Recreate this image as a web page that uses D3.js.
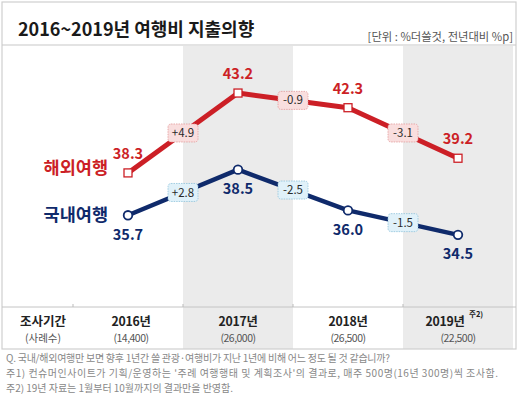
<!DOCTYPE html>
<html>
<head>
<meta charset="utf-8">
<script src="https://cdn.jsdelivr.net/npm/d3@7"></script>
<style>
  body { margin: 0; background: #fff; }
  svg { font-family: "Noto Sans CJK KR", "Noto Sans", sans-serif; }
</style>
</head>
<body>
<svg id="chart"></svg>
<script>
var years = ["2016", "2017", "2018", "2019"];
var sampleSizes = ["(14,400)", "(26,000)", "(26,500)", "(22,500)"];
var overseas = [38.3, 43.2, 42.3, 39.2];
var domestic = [35.7, 38.5, 36.0, 34.5];
var overseasChange = ["+4.9", "-0.9", "-3.1"];
var domesticChange = ["+2.8", "-2.5", "-1.5"];
var footnotes = [
    "Q. 국내/해외여행만 보면 향후 1년간 쓸 관광·여행비가 지난 1년에 비해 어느 정도 될 것 같습니까?",
    "주1) 컨슈머인사이트가 기획/운영하는 '주례 여행행태 및 계획조사'의 결과로, 매주 500명(16년 300명)씩 조사함.",
    "주2) 19년 자료는 1월부터 10월까지의 결과만을 반영함."
];

var W = 520, H = 407;
var red = "#cc1f26", navy = "#0f2a6b";
var boxTop = 2, boxBottom = 349, boxLeft = 2, boxRight = 516;
var titleLine = 45, tableLine = 307;
// stretched widths of the footnote lines, to match the condensed source font
var noteWidths = [384, 492, 227];

var svg = d3.select("#chart").attr("width", W).attr("height", H);

var xScale = d3.scaleBand().domain(years).range([73, 513]).padding(0);
var yScale = d3.scaleLinear().domain([33, 45]).range([259.3, 63.7]);
var cx = function (d, i) { return xScale(years[i]) + xScale.bandwidth() / 2; };

// shaded columns (2017, 2019)
svg.selectAll("rect.shade")
    .data(years.filter(function (d, i) { return i % 2 == 1; }))
    .enter().append("rect")
    .attr("class", "shade")
    .attr("x", function (d) { return xScale(d); })
    .attr("y", titleLine + 1)
    .attr("width", xScale.bandwidth())
    .attr("height", boxBottom - titleLine - 1)
    .attr("fill", "#ebebeb");

// frame
svg.append("rect")
    .attr("x", boxLeft).attr("y", boxTop)
    .attr("width", boxRight - boxLeft).attr("height", boxBottom - boxTop)
    .attr("fill", "none").attr("stroke", "#cfcfcf").attr("stroke-width", 1.2);
svg.append("line")
    .attr("x1", boxLeft).attr("x2", boxRight)
    .attr("y1", titleLine).attr("y2", titleLine)
    .attr("stroke", "#c8c8c8").attr("stroke-width", 1.2);
svg.append("line")
    .attr("x1", boxLeft).attr("x2", boxRight)
    .attr("y1", tableLine).attr("y2", tableLine)
    .attr("stroke", "#c4c4c4").attr("stroke-width", 1);
// little ticks on the table line
svg.selectAll("line.tick")
    .data(years)
    .enter().append("line")
    .attr("x1", function (d) { return xScale(d); })
    .attr("x2", function (d) { return xScale(d); })
    .attr("y1", tableLine - 3).attr("y2", tableLine)
    .attr("stroke", "#bbb");

// title
svg.append("text")
    .attr("x", 18).attr("y", 36)
    .attr("font-size", 18).attr("font-weight", "bold")
    .attr("fill", "#1a1a1a")
    .text("2016~2019년 여행비 지출의향");
svg.append("text")
    .attr("x", 513).attr("y", 41)
    .attr("text-anchor", "end")
    .attr("font-size", 11.3).attr("fill", "#555")
    .text("[단위 : %더쓸것, 전년대비 %p]");

var line = d3.line()
    .x(function (d, i) { return cx(d, i); })
    .y(function (d) { return yScale(d); });

function drawSeries(values, changes, color, lineW, marker, name, labelDy, boxFill, boxStroke) {
    var g = svg.append("g");
    g.append("path")
        .datum(values)
        .attr("d", line)
        .attr("fill", "none")
        .attr("stroke", color)
        .attr("stroke-width", lineW)
        .attr("stroke-linejoin", "round");

    // change boxes at segment midpoints
    var mids = changes.map(function (c, i) {
        return {
            label: c,
            x: (cx(values[i], i) + cx(values[i + 1], i + 1)) / 2,
            y: (yScale(values[i]) + yScale(values[i + 1])) / 2
        };
    });
    var bg = g.selectAll("g.chg").data(mids).enter().append("g")
        .attr("transform", function (d) { return `translate(${d.x},${d.y})`; });
    bg.append("rect")
        .attr("x", -15).attr("y", -9)
        .attr("width", 30).attr("height", 18)
        .attr("rx", 3)
        .attr("fill", boxFill)
        .attr("stroke", boxStroke)
        .attr("stroke-width", 0.8)
        .attr("stroke-dasharray", "1.5,1");
    bg.append("text")
        .attr("text-anchor", "middle")
        .attr("dy", "0.35em")
        .attr("font-size", 11.5)
        .attr("fill", "#2a2a2a")
        .text(function (d) { return d.label; });

    // markers
    if (marker == "square") {
        g.selectAll("rect.mk").data(values).enter().append("rect")
            .attr("x", function (d, i) { return cx(d, i) - 4; })
            .attr("y", function (d) { return yScale(d) - 4; })
            .attr("width", 8).attr("height", 8)
            .attr("fill", "#fff").attr("stroke", color).attr("stroke-width", 1.3);
    } else {
        g.selectAll("circle.mk").data(values).enter().append("circle")
            .attr("cx", function (d, i) { return cx(d, i); })
            .attr("cy", function (d) { return yScale(d); })
            .attr("r", 4.3)
            .attr("fill", "#fff").attr("stroke", color).attr("stroke-width", 1.8);
    }

    // value labels
    g.selectAll("text.val").data(values).enter().append("text")
        .attr("x", function (d, i) { return cx(d, i); })
        .attr("y", function (d) { return yScale(d) + labelDy; })
        .attr("dy", "0.35em")
        .attr("text-anchor", "middle")
        .attr("font-size", 14.5).attr("font-weight", "bold")
        .attr("fill", color)
        .text(function (d) { return d3.format(".1f")(d); });

    // series name
    g.append("text")
        .attr("x", 108)
        .attr("y", yScale(values[0]) - (marker == "square" ? 5 : 0))
        .attr("dy", "0.35em")
        .attr("text-anchor", "end")
        .attr("font-size", 17.5).attr("font-weight", "bold")
        .attr("fill", color)
        .text(name);
}

drawSeries(overseas, overseasChange, red, 5, "square", "해외여행", -19, "#f9dede", "#e29a9a");
drawSeries(domestic, domesticChange, navy, 4.5, "circle", "국내여행", 19.5, "#e0f1f9", "#8fc3da");

// table row
svg.append("text")
    .attr("x", 43).attr("y", 326)
    .attr("text-anchor", "middle")
    .attr("font-size", 12.5).attr("font-weight", "bold").attr("fill", "#222")
    .text("조사기간");
svg.append("text")
    .attr("x", 43).attr("y", 342)
    .attr("text-anchor", "middle")
    .attr("font-size", 10.5).attr("fill", "#555")
    .text("(사례수)");

var yearG = svg.selectAll("g.year").data(years).enter().append("g")
    .attr("transform", function (d) { return `translate(${xScale(d) + xScale.bandwidth() / 2},0)`; });
yearG.append("text")
    .attr("x", function (d, i) { return i == 3 ? -13 : (i == 0 ? 3 : 0); })
    .attr("y", 326)
    .attr("text-anchor", "middle")
    .attr("font-size", 12.3).attr("font-weight", "bold").attr("fill", "#222")
    .attr("letter-spacing", -0.3)
    .text(function (d) { return d + "년"; });
yearG.filter(function (d, i) { return i == 3; }).append("text")
    .attr("x", 11).attr("y", 317)
    .attr("font-size", 7.5).attr("font-weight", "bold").attr("fill", "#222")
    .text("주2)");
yearG.append("text")
    .attr("x", function (d, i) { return i == 0 ? 3 : 0; })
    .attr("y", 342)
    .attr("text-anchor", "middle")
    .attr("font-size", 10.5).attr("fill", "#555")
    .attr("letter-spacing", -0.5)
    .text(function (d, i) { return sampleSizes[i]; });

// footnotes
svg.selectAll("text.note").data(footnotes).enter().append("text")
    .attr("x", 6)
    .attr("y", function (d, i) { return 362 + i * 15; })
    .attr("font-size", 10).attr("fill", "#888")
    .attr("textLength", function (d, i) { return noteWidths[i]; })
    .attr("lengthAdjust", "spacing")
    .text(function (d) { return d; });
</script>
</body>
</html>
